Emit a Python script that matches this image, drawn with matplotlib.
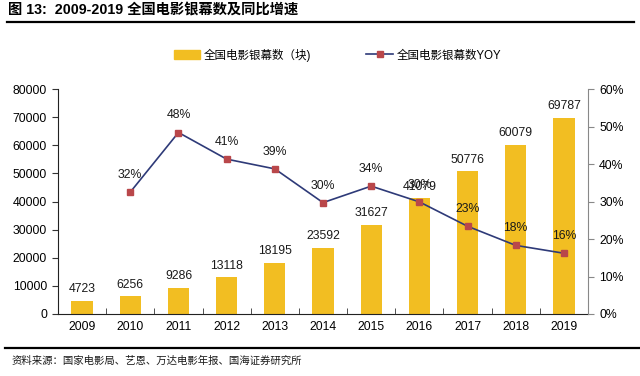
import matplotlib
matplotlib.use("Agg")
import matplotlib.pyplot as plt
from matplotlib.lines import Line2D
from matplotlib.patches import Patch
import numpy as np

plt.rcParams['font.family'] = ['Liberation Sans', 'Noto Sans CJK SC', 'DejaVu Sans']

years = ['2009', '2010', '2011', '2012', '2013', '2014', '2015', '2016', '2017', '2018', '2019']
screens = [4723, 6256, 9286, 13118, 18195, 23592, 31627, 41079, 50776, 60079, 69787]
yoy_years = ['2010', '2011', '2012', '2013', '2014', '2015', '2016', '2017', '2018', '2019']
yoy = [0.325, 0.484, 0.413, 0.387, 0.297, 0.341, 0.299, 0.234, 0.183, 0.162]

title = '图 13:  2009-2019 全国电影银幕数及同比增速'
bar_name = '全国电影银幕数（块)'
line_name = '全国电影银幕数YOY'
source = '资料来源：国家电影局、艺恩、万达电影年报、国海证券研究所'

bar_color = '#F2BE22'
line_color = '#2E3A78'
marker_color = '#B9474A'

fs = 8.8

fig = plt.figure(figsize=(6.4, 3.76), dpi=100)
ax = fig.add_axes([58/640, 1-314/376, (588-58)/640, (314-89)/376])
ax2 = ax.twinx()

x = np.arange(len(years))
ax.bar(x, screens, width=0.44, color=bar_color, zorder=2)
for xi, v in zip(x, screens):
    ax.annotate(str(v), (xi, v), xytext=(0, 4), textcoords='offset points',
                ha='center', va='bottom', fontsize=fs, color='#1a1a1a')

xl = [years.index(y) for y in yoy_years]
ax2.plot(xl, yoy, color=line_color, lw=1.2, marker='s', ms=4,
         mfc=marker_color, mec=marker_color, zorder=3)
for xi, v in zip(xl, yoy):
    ax2.annotate(f'{v:.0%}', (xi, v), xytext=(0, 8), textcoords='offset points',
                 ha='center', va='bottom', fontsize=fs, color='#1a1a1a')

ax.set_xlim(-0.5, len(years)-0.5)
ax.set_ylim(0, 80000)
ax.set_yticks(np.arange(0, 80001, 10000))
ax2.set_ylim(0, 0.6)
ax2.set_yticks(np.arange(0, 0.61, 0.1))
ax2.set_yticklabels([f'{int(round(t*100))}%' for t in np.arange(0, 0.61, 0.1)])

ax.set_xticks(x)
ax.set_xticklabels(years)
ax.set_xticks(np.arange(0.5, len(years)-0.5, 1), minor=True)
ax.tick_params(axis='x', which='major', length=0, labelsize=fs, pad=5)
ax.tick_params(axis='x', which='minor', length=4, direction='in', color='#333333')
ax.tick_params(axis='y', length=4, direction='out', labelsize=fs, pad=4, color='#333333')
ax2.tick_params(axis='y', length=4, direction='out', labelsize=fs, pad=4, color='#888888')

for s in ['top', 'right']:
    ax.spines[s].set_visible(False)
ax.spines['left'].set_color('#222222')
ax.spines['bottom'].set_color('#222222')
for s in ['top', 'left', 'bottom']:
    ax2.spines[s].set_visible(False)
ax2.spines['right'].set_color('#888888')

handles = [Patch(color=bar_color),
           Line2D([], [], color=line_color, lw=1.2, marker='s', ms=4, mfc=marker_color, mec=marker_color)]
fig.legend(handles, [bar_name, line_name], loc='center', bbox_to_anchor=(0.527, 1-55/376),
           ncol=2, frameon=False, fontsize=8.3, handlelength=2.3, handleheight=0.9,
           handletextpad=0.3, columnspacing=4.8)

fig.text(8/640, 1-11/376, title, fontsize=10.3, fontweight='bold', va='center', ha='left')
fig.add_artist(Line2D([7/640, 634/640], [1-22/376, 1-22/376], color='black', lw=1.6))
fig.add_artist(Line2D([5/640, 1.0], [1-348/376, 1-348/376], color='black', lw=1.6))
fig.text(12/640, 1-361/376, source, fontsize=7.5, va='center', ha='left', color='#1a1a1a')

fig.savefig('out.png', dpi=100)
